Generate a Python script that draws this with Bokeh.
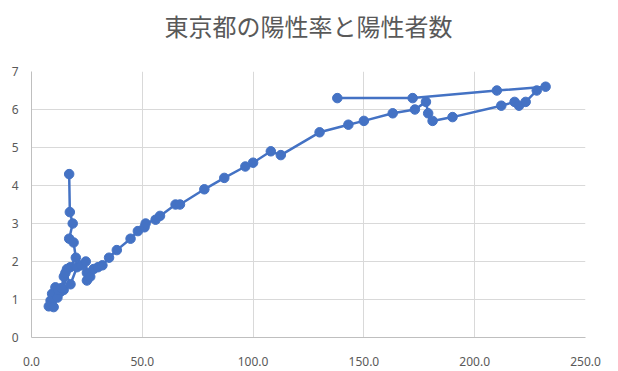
from bokeh.plotting import figure
from bokeh.models import FixedTicker, NumeralTickFormatter, ColumnDataSource, Title
from bokeh.embed import file_html
from bokeh.resources import INLINE

# 陽性者数 (x) と 陽性率 (y, %)
positives = [17.0, 17.3, 18.6, 17.0, 19.0, 20.0, 17.5, 16.0, 14.5, 13.0, 10.8, 9.3,
             8.6, 7.8, 10.0, 11.7, 12.0, 13.5, 14.6, 15.3, 17.6, 20.5, 22.5, 24.5,
             25.0, 25.0, 26.5, 28.0, 30.0, 32.0, 35.0, 38.5, 44.7, 48.0, 51.0, 51.5,
             56.0, 58.0, 65.0, 67.0, 78.0, 87.0, 96.5, 100.0, 108.0, 112.5, 130.0,
             143.0, 150.0, 163.0, 173.0, 178.0, 179.0, 181.0, 190.0, 212.0, 218.0,
             220.0, 223.0, 228.0, 232.0, 210.0, 172.0, 138.0]
rate = [4.3, 3.3, 3.0, 2.6, 2.5, 2.1, 1.85, 1.8, 1.25, 1.2, 1.32, 1.15,
        0.97, 0.82, 0.8, 1.05, 1.25, 1.3, 1.6, 1.7, 1.4, 1.85, 1.9, 2.0,
        1.7, 1.5, 1.6, 1.8, 1.85, 1.9, 2.1, 2.3, 2.6, 2.8, 2.9, 3.0,
        3.1, 3.2, 3.5, 3.5, 3.9, 4.2, 4.5, 4.6, 4.9, 4.8, 5.4,
        5.6, 5.7, 5.9, 6.0, 6.2, 5.9, 5.7, 5.8, 6.1, 6.2,
        6.1, 6.2, 6.5, 6.6, 6.5, 6.3, 6.3]
x_ticks = [0, 50, 100, 150, 200, 250]
y_ticks = [0, 1, 2, 3, 4, 5, 6, 7]
title_text = "東京都の陽性率と陽性者数"

src = ColumnDataSource(data=dict(x=positives, y=rate))

p = figure(width=610, height=370, x_range=(0, 250), y_range=(0, 7),
           output_backend="svg", toolbar_location=None,
           min_border_left=31, min_border_right=25, min_border_top=71,
           min_border_bottom=33)
p.outline_line_color = None
p.background_fill_color = "white"
p.border_fill_color = "white"

# spacer between the frame and the title (added first = closest to the frame)
spacer = Title(text=" ", text_font_size="1px", standoff=26)
p.add_layout(spacer, "above")
main_title = Title(text=title_text, text_font="Noto Sans CJK JP",
                   text_font_size="24px", text_font_style="normal",
                   text_color="#595959", align="center",
                   vertical_align="bottom", standoff=0)
p.add_layout(main_title, "above")

for ax in (p.xaxis[0], p.yaxis[0]):
    ax.axis_line_color = "#bfbfbf"
    ax.axis_line_width = 1
    ax.major_tick_line_color = None
    ax.minor_tick_line_color = None
    ax.major_tick_out = 0
    ax.major_tick_in = 0
    ax.major_label_text_font = "Noto Sans"
    ax.major_label_text_font_size = "12px"
    ax.major_label_text_color = "#595959"

p.xaxis.ticker = FixedTicker(ticks=x_ticks)
p.yaxis.ticker = FixedTicker(ticks=y_ticks)
p.xaxis.formatter = NumeralTickFormatter(format="0.0")
p.xaxis.major_label_standoff = 19
p.yaxis.major_label_standoff = 13

p.xgrid.ticker = FixedTicker(ticks=x_ticks)
p.ygrid.ticker = FixedTicker(ticks=y_ticks)
p.xgrid.grid_line_color = "#d9d9d9"
p.ygrid.grid_line_color = "#d9d9d9"

p.line("x", "y", source=src, line_color="#4472C4", line_width=2.5)
p.scatter("x", "y", source=src, size=9.5, fill_color="#4472C4", line_color="#4472C4")

open("out.html", "w").write(file_html(p, INLINE))
